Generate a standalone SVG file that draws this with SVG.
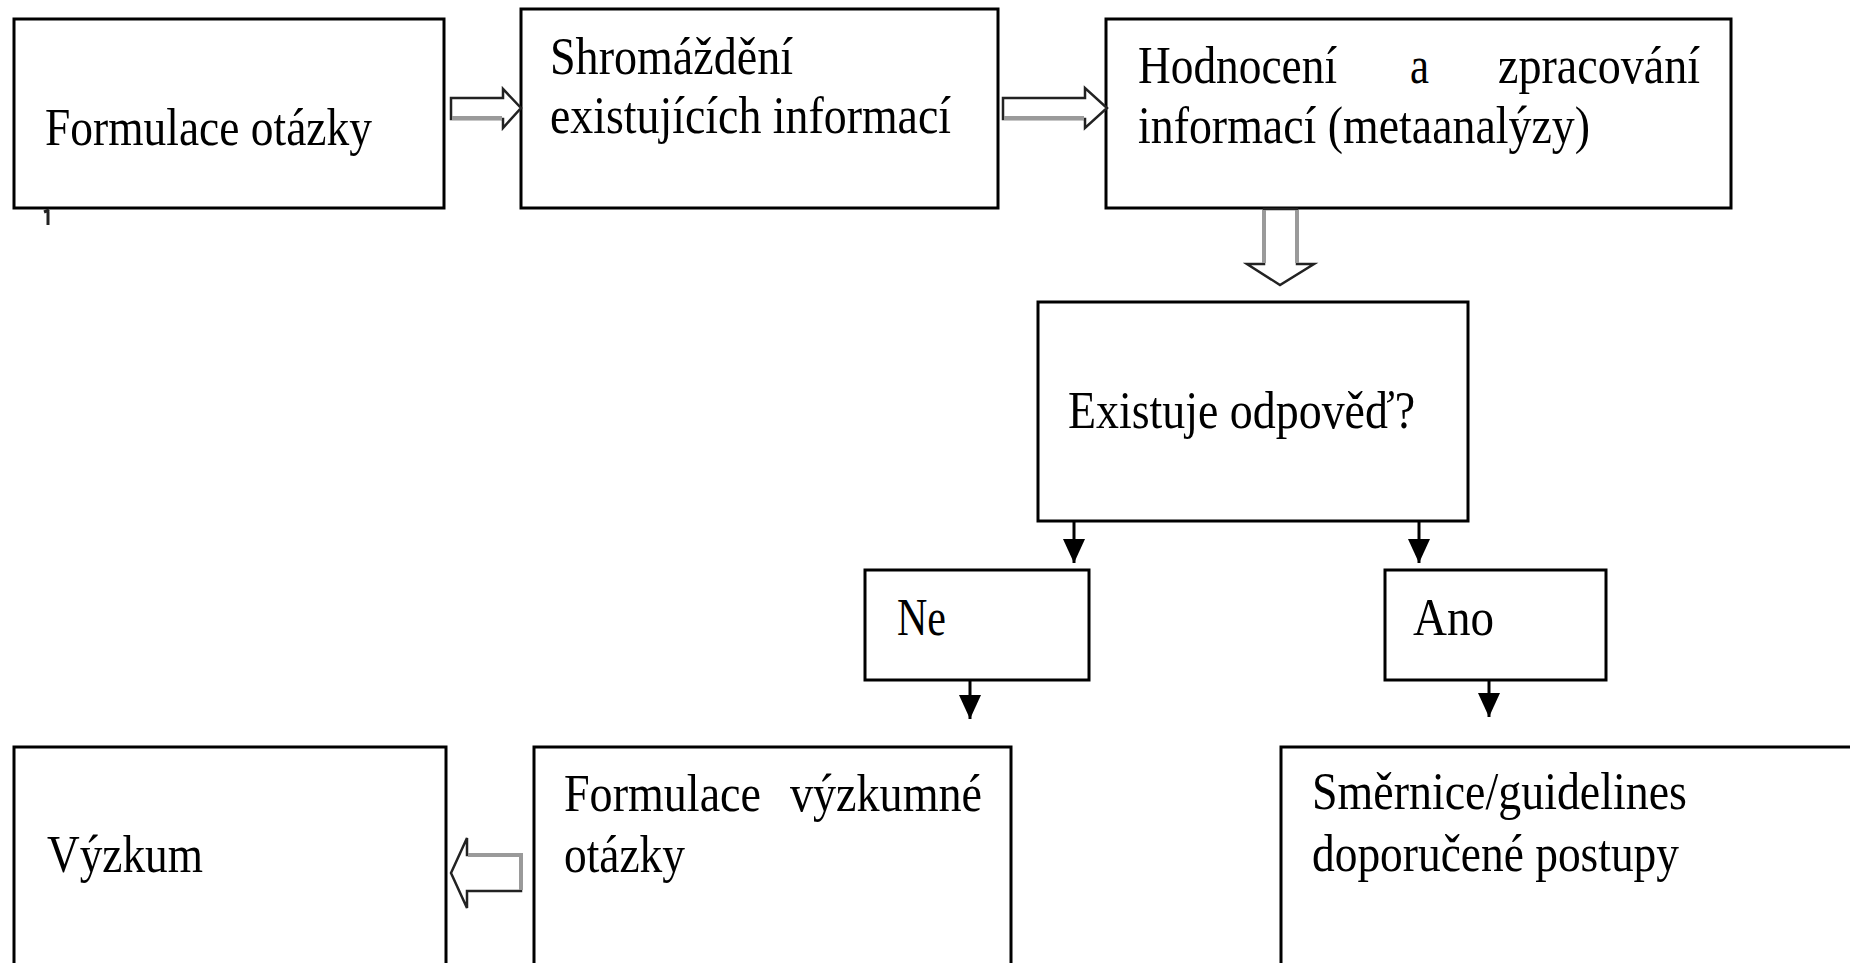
<svg xmlns="http://www.w3.org/2000/svg" width="1850" height="963" viewBox="0 0 1850 963">
<style>
.box{fill:#fff;stroke:#000;stroke-width:3}
.t{font-family:"Liberation Serif","Times New Roman",serif;font-size:53px;fill:#000}
.blk{fill:#fff;stroke:#222;stroke-width:2.5;stroke-linejoin:miter}
.gray{stroke:#9a9a9a;stroke-width:4;fill:none}
.ln{stroke:#000;stroke-width:3;fill:none}
</style>
<defs>
<marker id="ah" viewBox="0 0 24 22" refX="24" refY="11" markerWidth="24" markerHeight="22" markerUnits="userSpaceOnUse" orient="auto">
<path d="M0,0 L24,11 L0,22 Z" fill="#000"/>
</marker>
</defs>
<rect width="1850" height="963" fill="#fff"/>

<g id="n1">
<rect class="box" x="14" y="19" width="430" height="189"/>
<text class="t" x="45" y="145" textLength="327" lengthAdjust="spacingAndGlyphs">Formulace otázky</text>
<path d="M44,212 L49,210 M48,210 L48,225" stroke="#222" stroke-width="3" fill="none"/>
</g>
<g id="n2">
<rect class="box" x="521" y="9" width="477" height="199"/>
<text class="t" x="550" y="74" textLength="243" lengthAdjust="spacingAndGlyphs">Shromáždění</text>
<text class="t" x="550" y="133" textLength="401" lengthAdjust="spacingAndGlyphs">existujících informací</text>
</g>
<g id="n3">
<rect class="box" x="1106" y="19" width="625" height="189"/>
<text class="t" x="1138" y="83" textLength="199" lengthAdjust="spacingAndGlyphs">Hodnocení</text>
<text class="t" x="1410" y="83" textLength="19" lengthAdjust="spacingAndGlyphs">a</text>
<text class="t" x="1498" y="83" textLength="202" lengthAdjust="spacingAndGlyphs">zpracování</text>
<text class="t" x="1138" y="143" textLength="452" lengthAdjust="spacingAndGlyphs">informací (metaanalýzy)</text>
</g>
<g id="n4">
<rect class="box" x="1038" y="302" width="430" height="219"/>
<text class="t" x="1068" y="428" textLength="347" lengthAdjust="spacingAndGlyphs">Existuje odpověď?</text>
</g>
<g id="n5">
<rect class="box" x="865" y="570" width="224" height="110"/>
<text class="t" x="897" y="635" textLength="49" lengthAdjust="spacingAndGlyphs">Ne</text>
</g>
<g id="n6">
<rect class="box" x="1385" y="570" width="221" height="110"/>
<text class="t" x="1413" y="635" textLength="81" lengthAdjust="spacingAndGlyphs">Ano</text>
</g>
<g id="n7">
<rect class="box" x="14" y="747" width="432" height="240"/>
<text class="t" x="47" y="872" textLength="156" lengthAdjust="spacingAndGlyphs">Výzkum</text>
</g>
<g id="n8">
<rect class="box" x="534" y="747" width="477" height="240"/>
<text class="t" x="564" y="811" textLength="197" lengthAdjust="spacingAndGlyphs">Formulace</text>
<text class="t" x="790" y="811" textLength="192" lengthAdjust="spacingAndGlyphs">výzkumné</text>
<text class="t" x="564" y="872" textLength="121" lengthAdjust="spacingAndGlyphs">otázky</text>
</g>
<g id="n9">
<rect class="box" x="1281" y="747" width="600" height="240"/>
<text class="t" x="1312" y="809" textLength="375" lengthAdjust="spacingAndGlyphs">Směrnice/guidelines</text>
<text class="t" x="1312" y="871" textLength="367" lengthAdjust="spacingAndGlyphs">doporučené postupy</text>
</g>

<g id="connectors">
<polygon class="blk" points="451,98 503,98 503,89 521,108 503,128 503,119 451,119"/>
<line class="gray" x1="452" y1="118" x2="502" y2="118"/>
<polygon class="blk" points="1003,98 1085,98 1085,88 1107,108 1085,128 1085,119 1003,119"/>
<line class="gray" x1="1004" y1="118" x2="1084" y2="118"/>
<polygon class="blk" points="1264,209 1297,209 1297,264 1314,264 1280,285 1247,264 1264,264"/>
<path class="gray" d="M1264,210 L1264,263 M1297,210 L1297,263" stroke-width="3"/>
<polygon class="blk" points="451,873 467,838 467,855 521,855 521,891 467,891 467,908"/>
<path class="gray" d="M468,855 L521,855 L521,890" stroke-width="3"/>
<line class="ln" x1="1074" y1="522" x2="1074" y2="563" marker-end="url(#ah)"/>
<line class="ln" x1="1419" y1="522" x2="1419" y2="563" marker-end="url(#ah)"/>
<line class="ln" x1="970" y1="681" x2="970" y2="719" marker-end="url(#ah)"/>
<line class="ln" x1="1489" y1="681" x2="1489" y2="717" marker-end="url(#ah)"/>
</g>
</svg>
